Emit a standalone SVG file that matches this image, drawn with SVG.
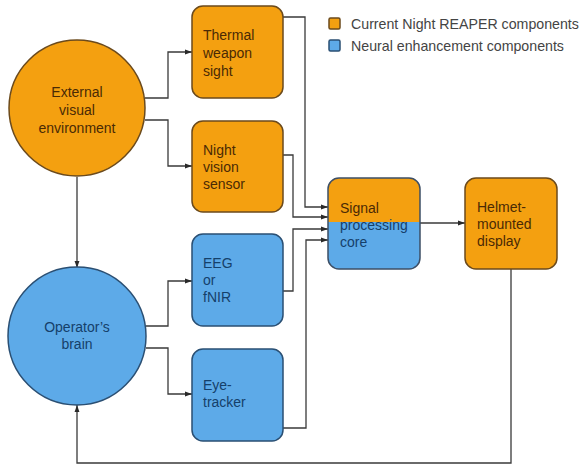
<svg xmlns="http://www.w3.org/2000/svg" width="579" height="466" viewBox="0 0 579 466">
<style>
.o{fill:#F4A010;stroke:#6b4a1c;stroke-width:1.5}
.b{fill:#5DAAE8;stroke:#2a4f73;stroke-width:1.5}
text{font-family:"Liberation Sans",Arial,sans-serif;font-size:14px}
.to{fill:#4a2a05}
.tb{fill:#15406a}
.c path{fill:none;stroke:#3a3a3a;stroke-width:1.3}
.lg{fill:#444;font-size:14.2px}
</style>
<defs>
<marker id="ah" viewBox="0 0 10 10" refX="10" refY="5" markerWidth="7" markerHeight="7" orient="auto" markerUnits="userSpaceOnUse">
<path d="M0,1.5 L10,5 L0,8.5 z" fill="#2a2a2a"/>
</marker>
<clipPath id="cp"><rect x="328" y="178" width="92" height="91" rx="11"/></clipPath>
</defs>
<g id="legend">
<rect x="329" y="18" width="11" height="11" rx="1.5" class="o" stroke-width="1"/>
<text x="351" y="29" class="lg">Current Night REAPER components</text>
<rect x="329" y="40" width="11" height="11" rx="1.5" class="b" stroke-width="1"/>
<text x="351" y="51" class="lg">Neural enhancement components</text>
</g>
<g class="c" id="connectors">
<path d="M145,98 H168 V52 H192" marker-end="url(#ah)"/>
<path d="M145,120 H168 V166 H192" marker-end="url(#ah)"/>
<path d="M146,326 H168 V281 H192" marker-end="url(#ah)"/>
<path d="M146,348 H168 V394 H192" marker-end="url(#ah)"/>
<path d="M77,177 V268" marker-end="url(#ah)"/>
<path d="M283,17 H305 V207 H328" marker-end="url(#ah)"/>
<path d="M283,155 H293 V217 H328" marker-end="url(#ah)"/>
<path d="M283,291 H293 V229 H328" marker-end="url(#ah)"/>
<path d="M283,428 H306 V240 H328" marker-end="url(#ah)"/>
<path d="M420,223 H465" marker-end="url(#ah)"/>
<path d="M511,269 V463 H77 V405" marker-end="url(#ah)"/>
</g>
<g id="external">
<circle cx="77" cy="108" r="68" class="o"/>
<text text-anchor="middle" class="to"><tspan x="77" y="97">External</tspan><tspan x="77" y="115">visual</tspan><tspan x="77" y="133">environment</tspan></text>
</g>
<g id="brain">
<circle cx="77" cy="336" r="69" class="b"/>
<text text-anchor="middle" class="tb"><tspan x="77" y="332">Operator’s</tspan><tspan x="77" y="349">brain</tspan></text>
</g>
<g id="thermal">
<rect x="192" y="6" width="91" height="92" rx="11" class="o"/>
<text class="to"><tspan x="203" y="40">Thermal</tspan><tspan x="203" y="58">weapon</tspan><tspan x="203" y="76">sight</tspan></text>
</g>
<g id="night">
<rect x="192" y="121" width="91" height="91" rx="11" class="o"/>
<text class="to"><tspan x="203" y="155">Night</tspan><tspan x="203" y="172">vision</tspan><tspan x="203" y="189">sensor</tspan></text>
</g>
<g id="eeg">
<rect x="192" y="234" width="91" height="92" rx="11" class="b"/>
<text class="tb"><tspan x="203" y="268">EEG</tspan><tspan x="203" y="285">or</tspan><tspan x="203" y="302">fNIR</tspan></text>
</g>
<g id="eye">
<rect x="192" y="349" width="91" height="92" rx="11" class="b"/>
<text class="tb"><tspan x="203" y="390">Eye-</tspan><tspan x="203" y="407">tracker</tspan></text>
</g>
<g id="signal">
<g clip-path="url(#cp)">
<rect x="328" y="178" width="92" height="44" fill="#F4A010"/>
<rect x="328" y="222" width="92" height="47" fill="#5DAAE8"/>
</g>
<rect x="328" y="178" width="92" height="91" rx="11" fill="none" stroke="#3d4f66" stroke-width="1.5"/>
<text x="340" y="213" class="to">Signal</text>
<text x="340" y="230" class="tb">processing</text>
<text x="340" y="247" class="tb">core</text>
</g>
<g id="helmet">
<rect x="465" y="178" width="92" height="91" rx="11" class="o"/>
<text class="to"><tspan x="477" y="212">Helmet-</tspan><tspan x="477" y="229">mounted</tspan><tspan x="477" y="246">display</tspan></text>
</g>
</svg>
